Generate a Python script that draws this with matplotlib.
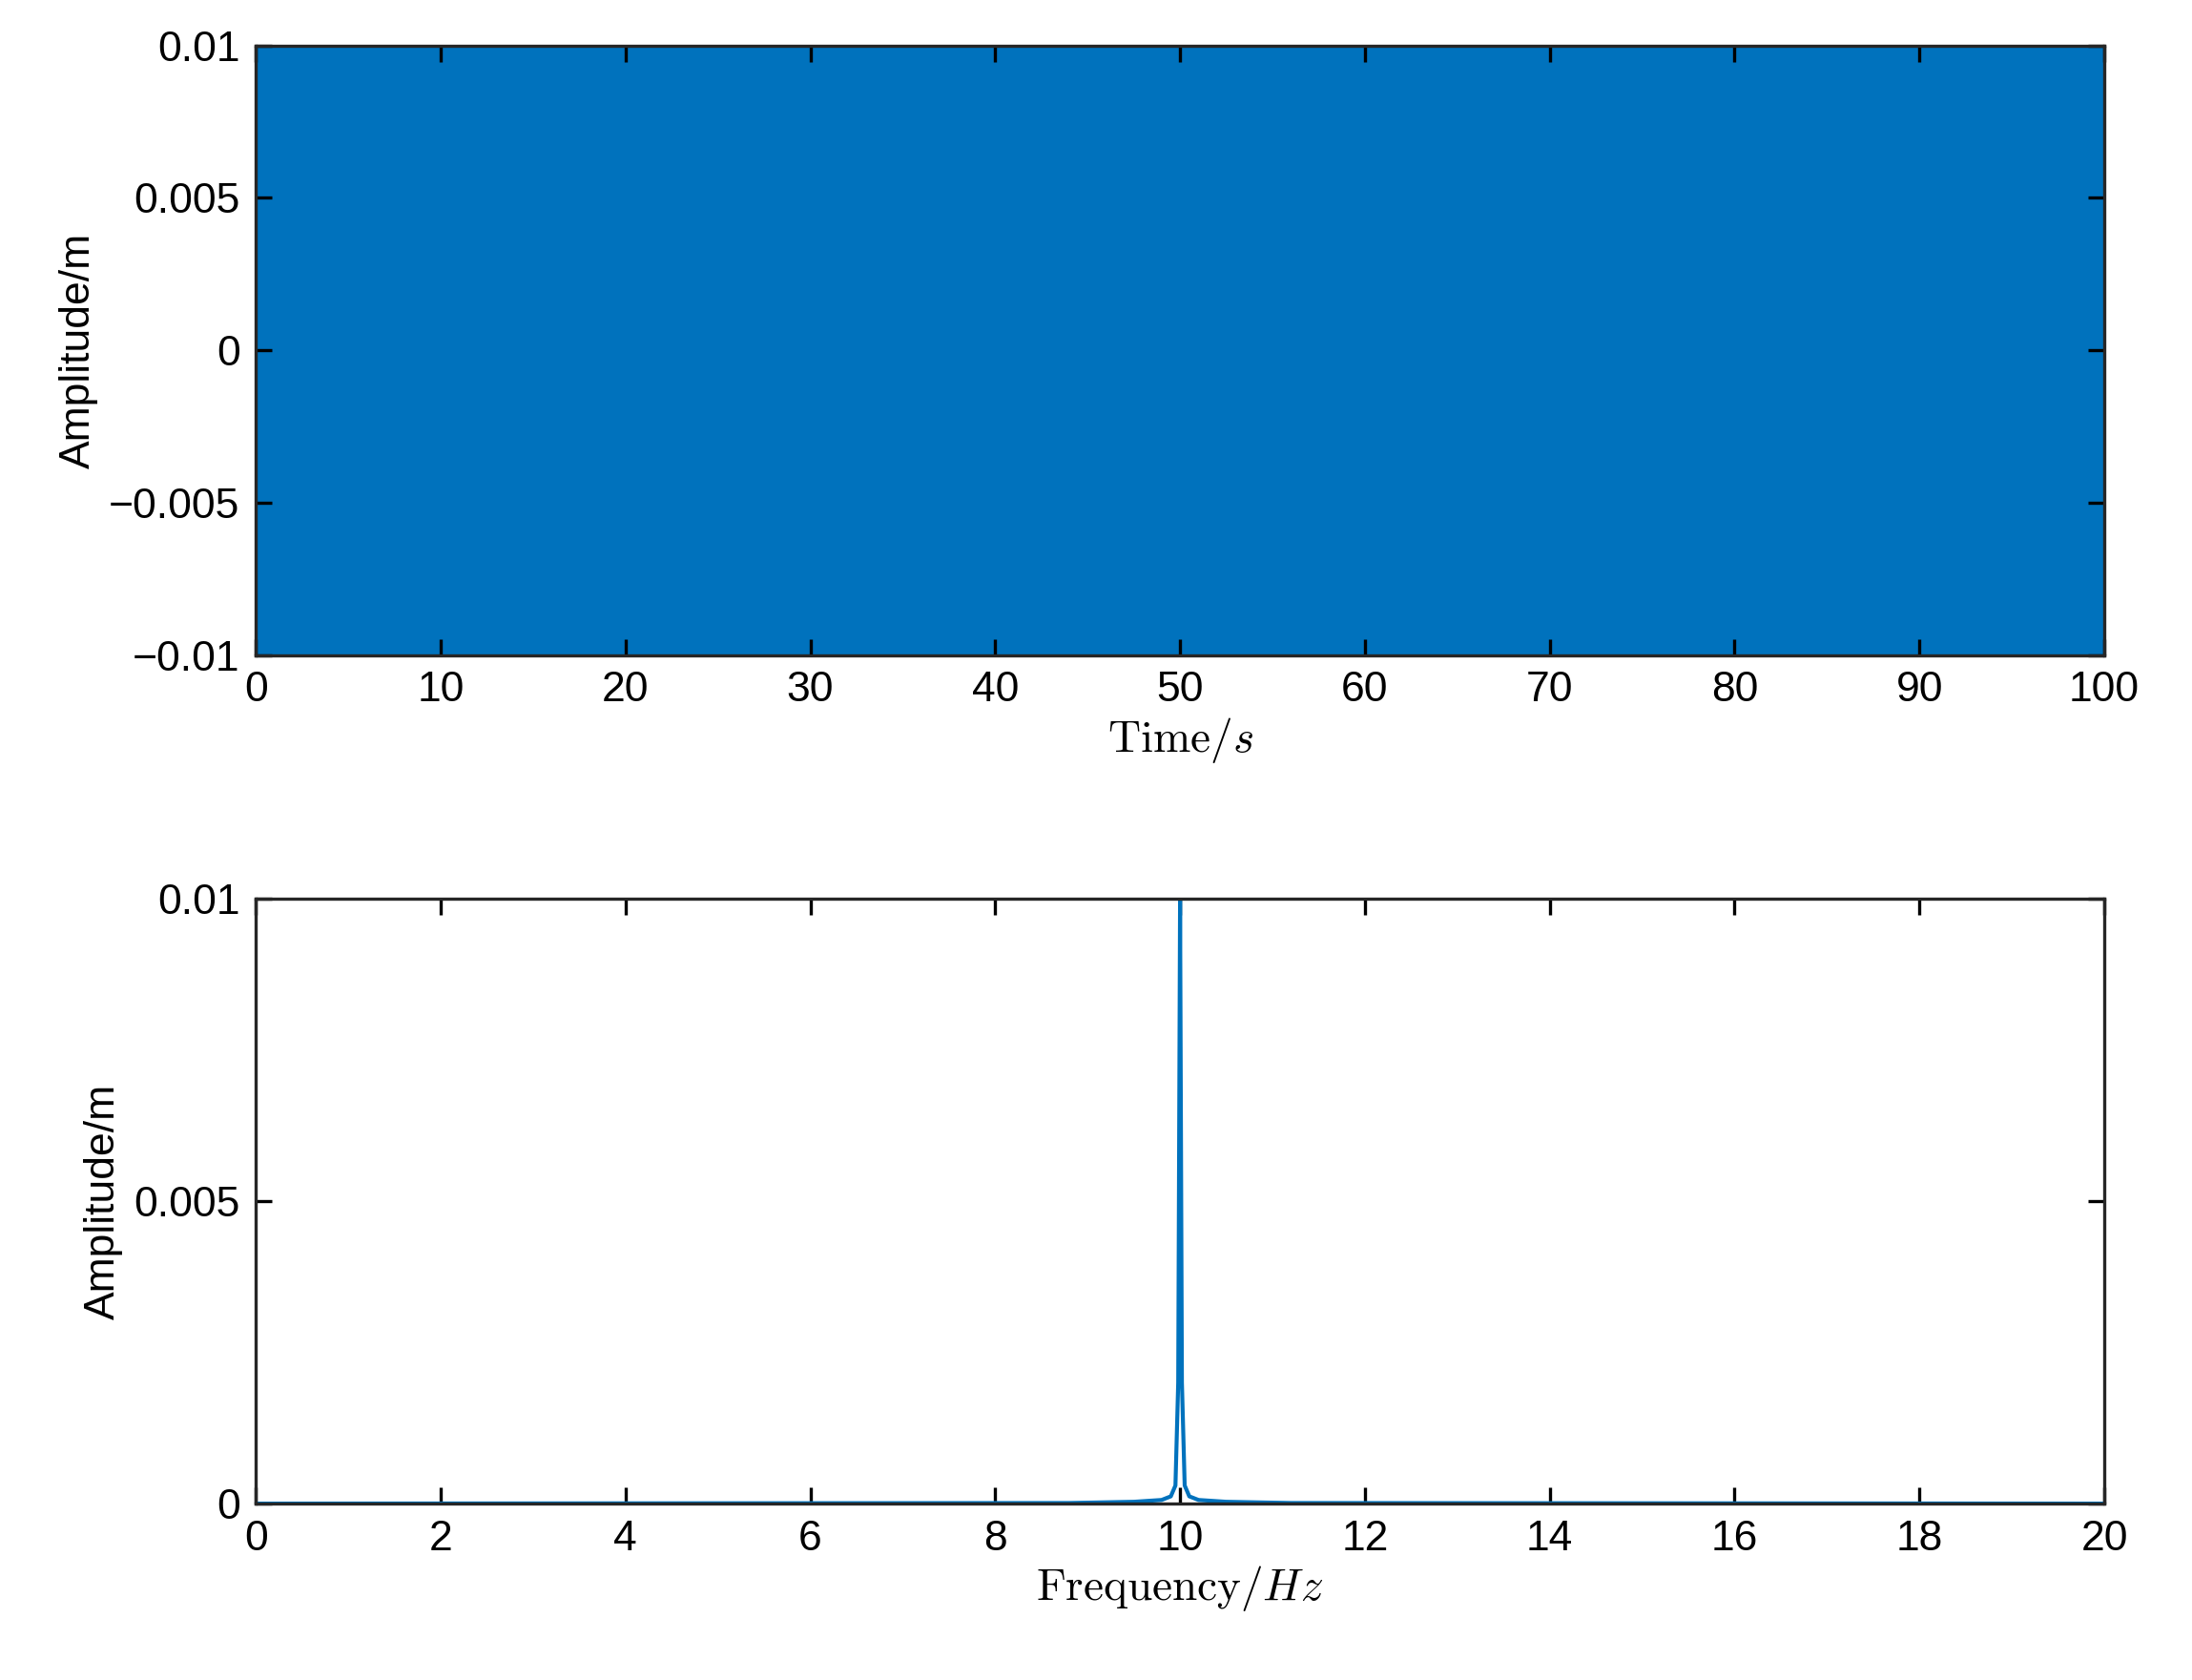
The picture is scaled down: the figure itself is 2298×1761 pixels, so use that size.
import matplotlib
matplotlib.use("Agg")
import matplotlib.pyplot as plt

plt.rcParams['font.family'] = ['Liberation Sans', 'DejaVu Sans']
plt.rcParams['mathtext.fontset'] = 'cm'

# Time signal envelope (dense 10 Hz oscillation filling +/-0.01)
time_span = [0, 100]
upper_env = [0.01, 0.01]
lower_env = [-0.01, -0.01]

# Spectrum samples
freq = [0, 8.8, 9.5, 9.8, 9.9, 9.95, 9.98, 10.0, 10.02, 10.05, 10.1, 10.2, 10.5, 11.2, 20]
amp = [0, 0.00001, 0.00003, 0.00006, 0.00012, 0.0003, 0.002, 0.01, 0.002, 0.0003, 0.00012, 0.00006, 0.00003, 0.00001, 0]

color = '#0072BD'
fig = plt.figure(figsize=(11.49, 8.805), dpi=200)

ax1 = fig.add_axes([0.1167, 0.610, 0.8433, 0.363])
ax1.fill_between(time_span, lower_env, upper_env, color=color, linewidth=0)
ax1.set_xlim(0, 100); ax1.set_ylim(-0.01, 0.01)
ax1.set_xticks(range(0, 101, 10))
ax1.set_yticks([-0.01, -0.005, 0, 0.005, 0.01])
ax1.set_yticklabels(['\u22120.01', '\u22120.005', '0', '0.005', '0.01'])
ax1.set_xlabel(r'$\mathrm{Time}/s$', fontsize=17, labelpad=2)
ax1.set_ylabel('Amplitude/m', fontsize=16)

ax2 = fig.add_axes([0.1167, 0.105, 0.8433, 0.360])
ax2.plot(freq, amp, color=color, linewidth=1.5)
ax2.set_xlim(0, 20); ax2.set_ylim(0, 0.01)
ax2.set_xticks(range(0, 21, 2))
ax2.set_yticks([0, 0.005, 0.01])
ax2.set_yticklabels(['0', '0.005', '0.01'])
ax2.set_xlabel(r'$\mathrm{Frequency}/Hz$', fontsize=17, labelpad=2)
ax2.set_ylabel('Amplitude/m', fontsize=16)

for ax in (ax1, ax2):
    ax.tick_params(direction='in', top=True, right=True, labelsize=16, length=6, width=1.2, pad=6)
    for s in ax.spines.values():
        s.set_linewidth(1.2); s.set_color('#262626')

fig.savefig('out.png', dpi=200)
